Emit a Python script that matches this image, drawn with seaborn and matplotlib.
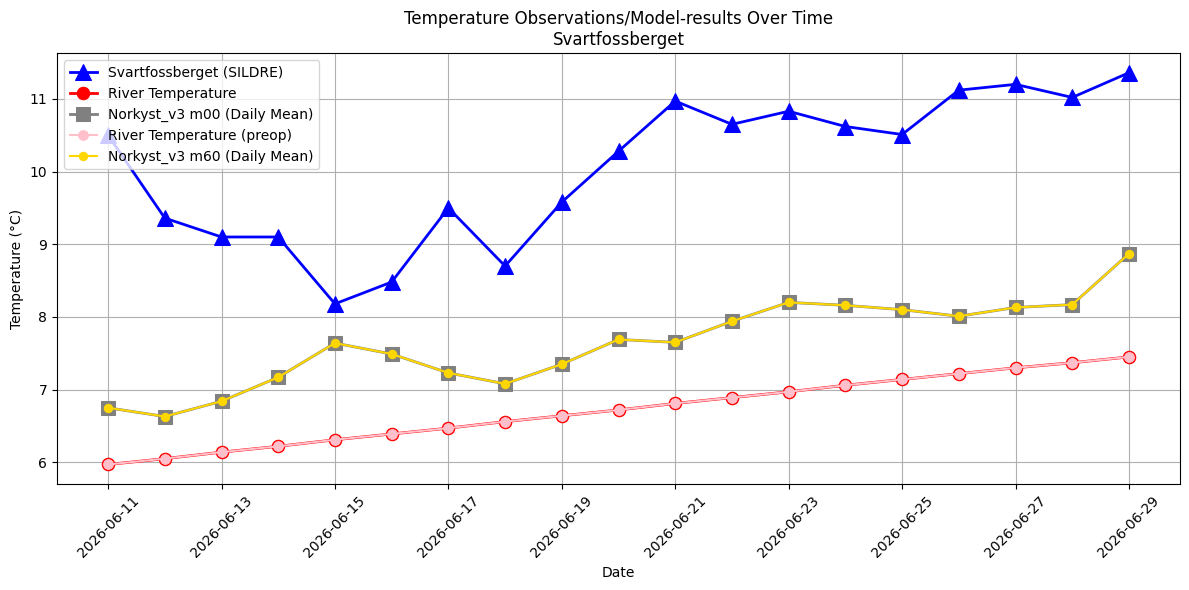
import matplotlib
matplotlib.use("Agg")
import numpy as np
import pandas as pd
import matplotlib.pyplot as plt
import seaborn as sns

dates = pd.date_range("2026-06-11", "2026-06-29", freq="D")

sildre = [10.50, 9.36, 9.10, 9.10, 8.18, 8.48, 9.50, 8.70, 9.58, 10.28,
          10.97, 10.65, 10.83, 10.62, 10.51, 11.12, 11.20, 11.02, 11.36]
river = [5.97, 6.05, 6.14, 6.22, 6.31, 6.39, 6.47, 6.56, 6.64, 6.72,
         6.81, 6.89, 6.97, 7.06, 7.14, 7.22, 7.30, 7.37, 7.45]
river_preop = list(river)
m00 = [6.75, 6.63, 6.84, 7.17, 7.64, 7.49, 7.23, 7.08, 7.35, 7.69,
       7.65, 7.94, 8.20, 8.16, 8.10, 8.01, 8.13, 8.17, 8.87]
m60 = list(m00)

fig, ax = plt.subplots(figsize=(12, 6), dpi=100)

sns.lineplot(x=dates, y=sildre, ax=ax, color="blue", marker="^", markersize=12,
             linewidth=2, markeredgecolor="blue", label="Svartfossberget (SILDRE)")
sns.lineplot(x=dates, y=river, ax=ax, color="red", marker="o", markersize=9,
             linewidth=2, markeredgecolor="red", label="River Temperature")
sns.lineplot(x=dates, y=m00, ax=ax, color="gray", marker="s", markersize=10,
             linewidth=2, markeredgecolor="gray", label="Norkyst_v3 m00 (Daily Mean)")
sns.lineplot(x=dates, y=river_preop, ax=ax, color="pink", marker="o", markersize=7,
             linewidth=1.5, markeredgecolor="pink", label="River Temperature (preop)")
sns.lineplot(x=dates, y=m60, ax=ax, color="gold", marker="o", markersize=6,
             linewidth=1.5, markeredgecolor="gold", label="Norkyst_v3 m60 (Daily Mean)")

ax.set_title("Temperature Observations/Model-results Over Time\nSvartfossberget")
ax.set_xlabel("Date")
ax.set_ylabel("Temperature (°C)")
ax.grid(True)
ax.legend(loc="upper left")
plt.setp(ax.get_xticklabels(), rotation=45)
fig.tight_layout()
fig.savefig("out.png", dpi=100, bbox_inches="tight")
